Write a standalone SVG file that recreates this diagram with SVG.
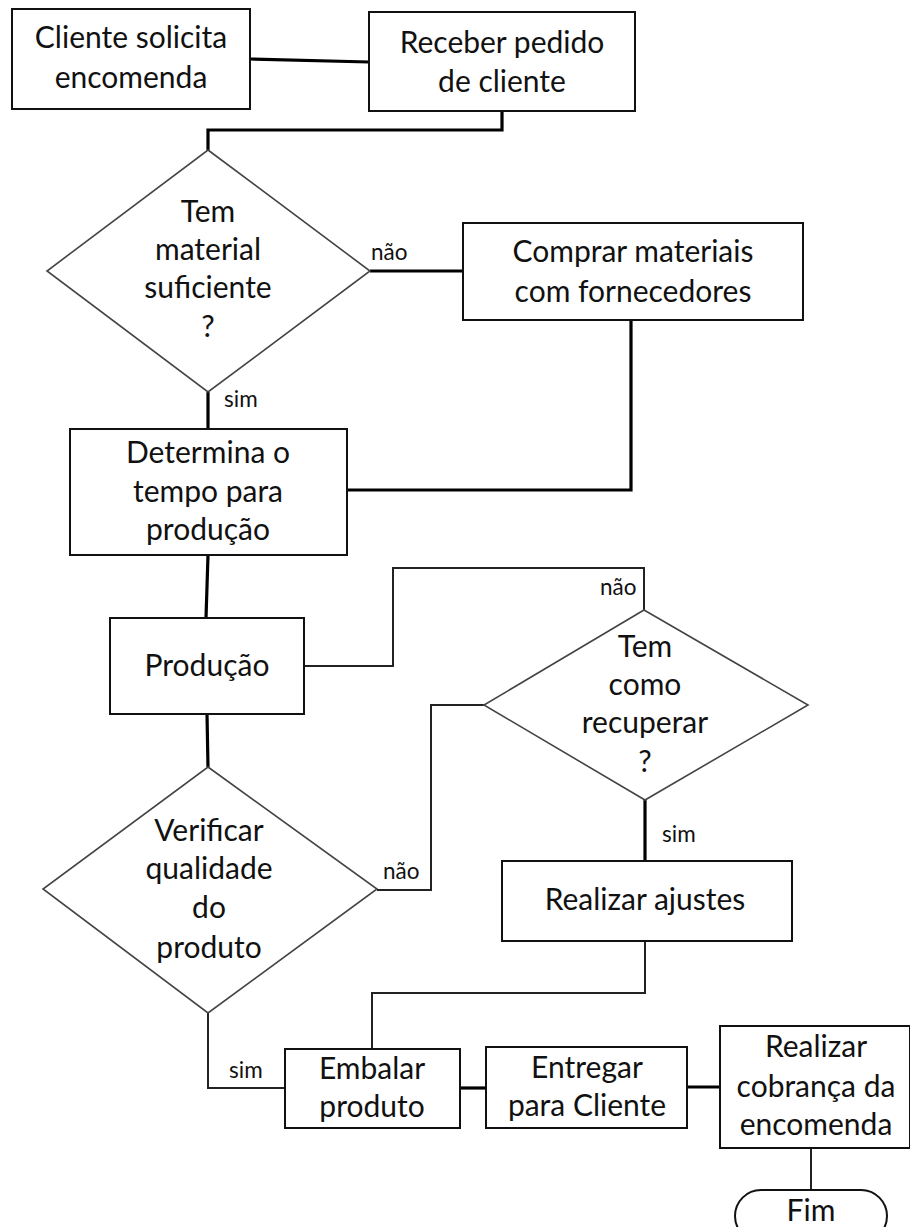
<svg xmlns="http://www.w3.org/2000/svg" width="910" height="1227" viewBox="0 0 910 1227">
<style>
.box{fill:#fff;stroke:#111;stroke-width:2}
.dia{fill:#fff;stroke:#444;stroke-width:1.6}
.t{font-family:Lato,"Liberation Sans",sans-serif;font-size:30px;fill:#111;text-anchor:middle}
.l{font-family:Lato,"Liberation Sans",sans-serif;font-size:22.5px;fill:#111;text-anchor:start}
.thick{fill:none;stroke:#000;stroke-width:3.2}
.thin{fill:none;stroke:#222;stroke-width:2}
</style>
<rect width="910" height="1227" fill="#fff"/>
<g id="connectors">
<path class="thick" d="M250 59 L369 62"/>
<path class="thick" d="M502 111 V130 H208 V150"/>
<path class="thick" d="M370 271 H463"/>
<path class="thick" d="M208 392 V429"/>
<path class="thick" d="M631 320 V490 H347"/>
<path class="thick" d="M208 555 L206 618"/>
<path class="thin" d="M304 666 H393 V568 H644 V610"/>
<path class="thick" d="M207 714 L208 767"/>
<path class="thin" d="M484 705 H431 V890 H377"/>
<path class="thick" d="M645 800 V861"/>
<path class="thin" d="M645 941 V993 H372 V1049"/>
<path class="thin" d="M208 1013 V1088 H285"/>
<path class="thick" d="M460 1088 H486"/>
<path class="thick" d="M687 1087 H720"/>
<path class="thin" d="M811 1148 V1190"/>
</g>
<g id="labels">
<text class="l" x="371" y="260">não</text>
<text class="l" x="224" y="407">sim</text>
<text class="l" x="600" y="595">não</text>
<text class="l" x="383" y="879">não</text>
<text class="l" x="662" y="842">sim</text>
<text class="l" x="229" y="1078">sim</text>
</g>
<g id="n1"><rect class="box" x="12" y="9" width="238" height="100"/><text class="t" x="131" y="48">Cliente solicita</text><text class="t" x="131" y="88">encomenda</text></g>
<g id="n2"><rect class="box" x="369" y="12" width="266" height="99"/><text class="t" x="502" y="53">Receber pedido</text><text class="t" x="502" y="92">de cliente</text></g>
<g id="n3"><polygon class="dia" points="208,150 370,271 208,392 47,271"/><text class="t" x="208" y="222">Tem</text><text class="t" x="208" y="260">material</text><text class="t" x="208" y="298">suficiente</text><text class="t" x="208" y="337">?</text></g>
<g id="n4"><rect class="box" x="463" y="223" width="340" height="97"/><text class="t" x="633" y="262">Comprar materiais</text><text class="t" x="633" y="302">com fornecedores</text></g>
<g id="n5"><rect class="box" x="70" y="429" width="277" height="126"/><text class="t" x="208" y="463">Determina o</text><text class="t" x="208" y="502">tempo para</text><text class="t" x="208" y="540">produção</text></g>
<g id="n6"><rect class="box" x="110" y="618" width="194" height="96"/><text class="t" x="207" y="676">Produção</text></g>
<g id="n7"><polygon class="dia" points="644,610 808,705 645,800 484,705"/><text class="t" x="645" y="657">Tem</text><text class="t" x="645" y="695">como</text><text class="t" x="645" y="733">recuperar</text><text class="t" x="645" y="772">?</text></g>
<g id="n8"><polygon class="dia" points="208,767 377,889 208,1013 43,889"/><text class="t" x="209" y="841">Verificar</text><text class="t" x="209" y="879">qualidade</text><text class="t" x="209" y="918">do</text><text class="t" x="209" y="958">produto</text></g>
<g id="n9"><rect class="box" x="502" y="861" width="290" height="80"/><text class="t" x="645" y="910">Realizar ajustes</text></g>
<g id="n10"><rect class="box" x="285" y="1049" width="175" height="79"/><text class="t" x="372" y="1079">Embalar</text><text class="t" x="372" y="1117">produto</text></g>
<g id="n11"><rect class="box" x="486" y="1047" width="201" height="81"/><text class="t" x="587" y="1078">Entregar</text><text class="t" x="587" y="1116">para Cliente</text></g>
<g id="n12"><rect class="box" x="720" y="1026" width="190" height="122"/><text class="t" x="816" y="1057">Realizar</text><text class="t" x="816" y="1097">cobrança da</text><text class="t" x="816" y="1135">encomenda</text></g>
<g id="n13"><rect class="box" x="735" y="1190" width="152" height="52" rx="26" ry="26"/><text class="t" x="811" y="1221">Fim</text></g>
</svg>
